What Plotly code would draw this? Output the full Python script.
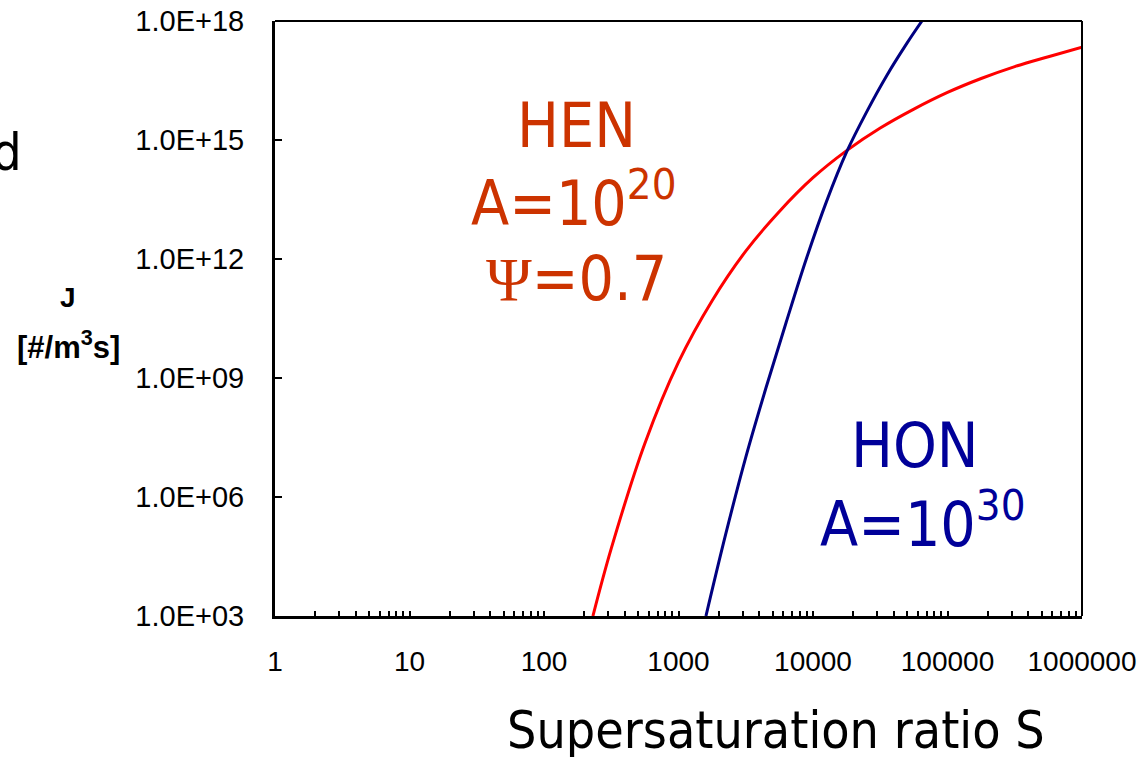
import plotly.graph_objects as go

# Nucleation rate J [#/m^3 s] versus supersaturation ratio S
hen_s = [231, 316, 562, 1000, 1778, 3162, 5623, 10000, 17783, 31623, 56234,
         100000, 177828, 316228, 562341, 1000000]
hen_j = [1e3, 5.0e4, 2.24e7, 2.51e9, 8.9e10, 1.58e12, 1.58e13, 1.12e14, 5.4e14, 2.0e15, 6.0e15,
         1.58e16, 3.55e16, 7.1e16, 1.26e17, 2.19e17]

hon_s = [1600, 2239, 3162, 4467, 6310, 8913, 12589, 17783, 25119, 35481, 50119, 64565]
hon_j = [1e3, 1.12e5, 1e7, 5.6e8, 2.5e10, 1e12, 2.8e13, 5.0e14, 5.2e15, 4.3e16, 2.8e17, 1e18]

x_decades = [1, 10, 100, 1000, 10000, 100000, 1000000]
x_labels = ["1", "10", "100", "1000", "10000", "100000", "1000000"]
y_ticks = [1e3, 1e6, 1e9, 1e12, 1e15, 1e18]
y_labels = ["1.0E+03", "1.0E+06", "1.0E+09", "1.0E+12", "1.0E+15", "1.0E+18"]

W, H = 1140, 757
L, R, T, B = 275, 1082, 21, 616

# ticks at every integer multiple within each decade, labelled only at decades
x_tickvals, x_ticktext = [], []
for i, d in enumerate(x_decades):
    x_tickvals.append(d)
    x_ticktext.append(x_labels[i])
    if i < len(x_decades) - 1:
        for m in range(2, 10):
            x_tickvals.append(d * m)
            x_ticktext.append("")

TAHOMA = "DejaVu Sans Condensed, DejaVu Sans, sans-serif"
ARIAL = "Liberation Sans, Arial, sans-serif"
HEN_C = "#CC3300"
HON_C = "#000099"

fig = go.Figure()
fig.add_trace(go.Scatter(x=hen_s, y=hen_j, mode="lines", line=dict(color="#FF0000", width=3, shape="spline"),
                         showlegend=False, hoverinfo="skip"))
fig.add_trace(go.Scatter(x=hon_s, y=hon_j, mode="lines", line=dict(color="#000080", width=3, shape="spline"),
                         showlegend=False, hoverinfo="skip"))


def px(xp):
    return (xp - L) / (R - L)


def py(yp):
    return (B - yp) / (B - T)


def label(text, xp, yp, size, color, family=TAHOMA, xanchor="center", bold=False):
    fig.add_annotation(text=text, x=px(xp), y=py(yp), xref="paper", yref="paper",
                       xanchor=xanchor, yanchor="middle", showarrow=False,
                       font=dict(family=family, size=size, color=color,
                                 weight="bold" if bold else "normal"))


label("HEN", 576, 125, 62, HEN_C)
label("A=10<sup>20</sup>", 574, 199, 62, HEN_C)
label('<span style="font-family:Liberation Serif">Ψ</span>=0.7', 576, 278, 62, HEN_C)
label("HON", 915, 445, 62, HON_C)
label("A=10<sup>30</sup>", 923, 520, 62, HON_C)
label("Supersaturation ratio S", 776, 730, 51.5, "#000000")
label("d", 24, 152, 52, "#000000", xanchor="right")
label("J", 68, 297, 28, "#000000", family=ARIAL, bold=True)
label("[#/m<sup>3</sup>s]", 68, 345, 31, "#000000", family=ARIAL, bold=True)

# thinner top/right frame
fig.add_shape(type="line", xref="paper", yref="paper", x0=0, x1=1, y0=1, y1=1,
              line=dict(color="black", width=2))
fig.add_shape(type="line", xref="paper", yref="paper", x0=1, x1=1, y0=0, y1=1,
              line=dict(color="black", width=2))

fig.update_xaxes(type="log", range=[0, 6], showgrid=False, zeroline=False, automargin=False,
                 showline=True, linecolor="black", linewidth=3,
                 tickmode="array", tickvals=x_tickvals, ticktext=x_ticktext,
                 ticks="inside", ticklen=5, tickwidth=2, tickcolor="black",
                 ticklabelstandoff=18,
                 tickfont=dict(family=ARIAL, size=28, color="#000000"))
fig.update_yaxes(type="log", range=[3, 18], showgrid=False, zeroline=False, automargin=False,
                 showline=True, linecolor="black", linewidth=3,
                 tickmode="array", tickvals=y_ticks, ticktext=y_labels,
                 ticks="inside", ticklen=7, tickwidth=2, tickcolor="black",
                 ticklabelstandoff=22,
                 tickfont=dict(family=ARIAL, size=29, color="#000000"))

fig.update_layout(width=W, height=H, margin=dict(l=L, r=W - R, t=T, b=H - B, pad=0, autoexpand=False),
                  plot_bgcolor="white", paper_bgcolor="white")

fig.write_html("out.html")
